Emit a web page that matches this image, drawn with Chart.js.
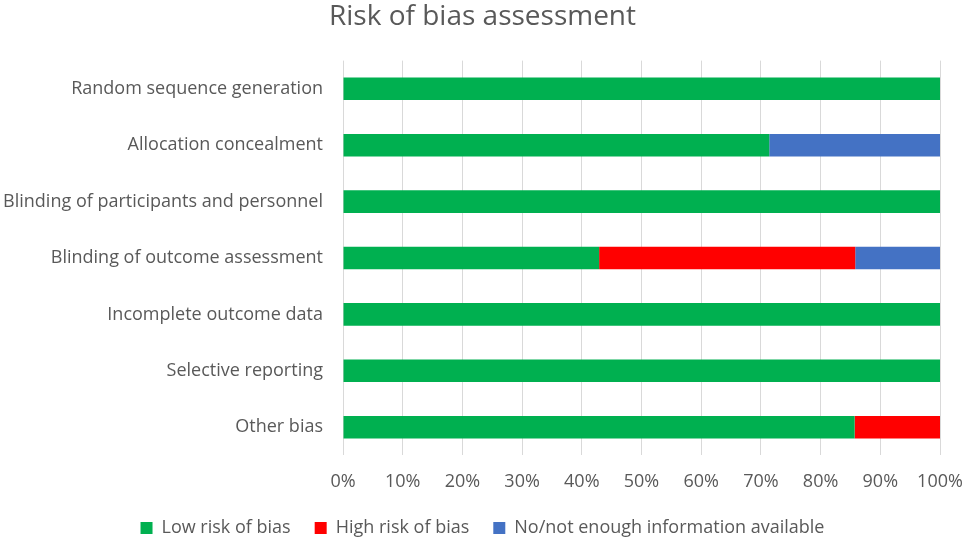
<!DOCTYPE html>
<html>
<head>
<meta charset="utf-8">
<script src="https://cdn.jsdelivr.net/npm/chart.js@4/dist/chart.umd.min.js"></script>
<style>
  html, body { margin: 0; padding: 0; background: #fff; }
  #wrap { width: 965px; height: 539px; }
</style>
</head>
<body>
<div id="wrap"><canvas id="bias"></canvas></div>
<script>
// Domains of the risk of bias tool
const domains = [
    "Random sequence generation",
    "Allocation concealment",
    "Blinding of participants and personnel",
    "Blinding of outcome assessment",
    "Incomplete outcome data",
    "Selective reporting",
    "Other bias"
];
// percent of studies per judgement
const lowRisk  = [100, 71.4, 100, 42.9, 100, 100, 85.7];
const highRisk = [0, 0, 0, 42.9, 0, 0, 14.3];
const noInfo   = [0, 28.6, 0, 14.3, 0, 0, 0];
const seriesNames = ["Low risk of bias", "High risk of bias", "No/not enough information available"];

const grey = "#595959";
const fontFamily = "'Open Sans', 'Noto Sans', sans-serif";

new Chart("bias", {
    type: "bar",
    data: {
        labels: domains,
        datasets: [{
            label: seriesNames[0],
            data: lowRisk,
            backgroundColor: "#00B050"
        },{
            label: seriesNames[1],
            data: highRisk,
            backgroundColor: "#FF0000"
        },{
            label: seriesNames[2],
            data: noInfo,
            backgroundColor: "#4472C4"
        }]
    },
    options: {
        indexAxis: "y",
        responsive: true,
        maintainAspectRatio: false,
        animation: false,
        datasets: {
            bar: { categoryPercentage: 0.4, barPercentage: 1 }
        },
        layout: {
            padding: { left: 0, right: 0, top: 0, bottom: -8 }
        },
        plugins: {
            title: {
                display: true,
                text: "Risk of bias assessment",
                color: grey,
                font: { family: fontFamily, size: 28, weight: "normal" },
                padding: { top: 0, bottom: 27 }
            },
            legend: {
                position: "bottom",
                labels: {
                    color: grey,
                    font: { family: fontFamily, size: 18 },
                    boxWidth: 12,
                    boxHeight: 12,
                    padding: 24
                }
            },
            tooltip: { enabled: false }
        },
        scales: {
            x: {
                stacked: true,
                min: 0,
                max: 100,
                ticks: {
                    stepSize: 10,
                    color: grey,
                    padding: 16,
                    font: { family: fontFamily, size: 18 },
                    callback: function(value) { return value + "%"; }
                },
                grid: { color: "#d9d9d9", drawTicks: false },
                border: { display: false },
                afterFit: function(axis) {
                    axis.height = axis.height - 14;
                    axis.paddingLeft = 0;
                    axis.paddingRight = 25;
                }
            },
            y: {
                stacked: true,
                ticks: {
                    color: grey,
                    padding: 20,
                    font: { family: fontFamily, size: 18 }
                },
                grid: { display: false, drawTicks: false },
                border: { display: false },
                afterFit: function(axis) { axis.width = 343; }
            }
        }
    }
});
</script>
</body>
</html>
